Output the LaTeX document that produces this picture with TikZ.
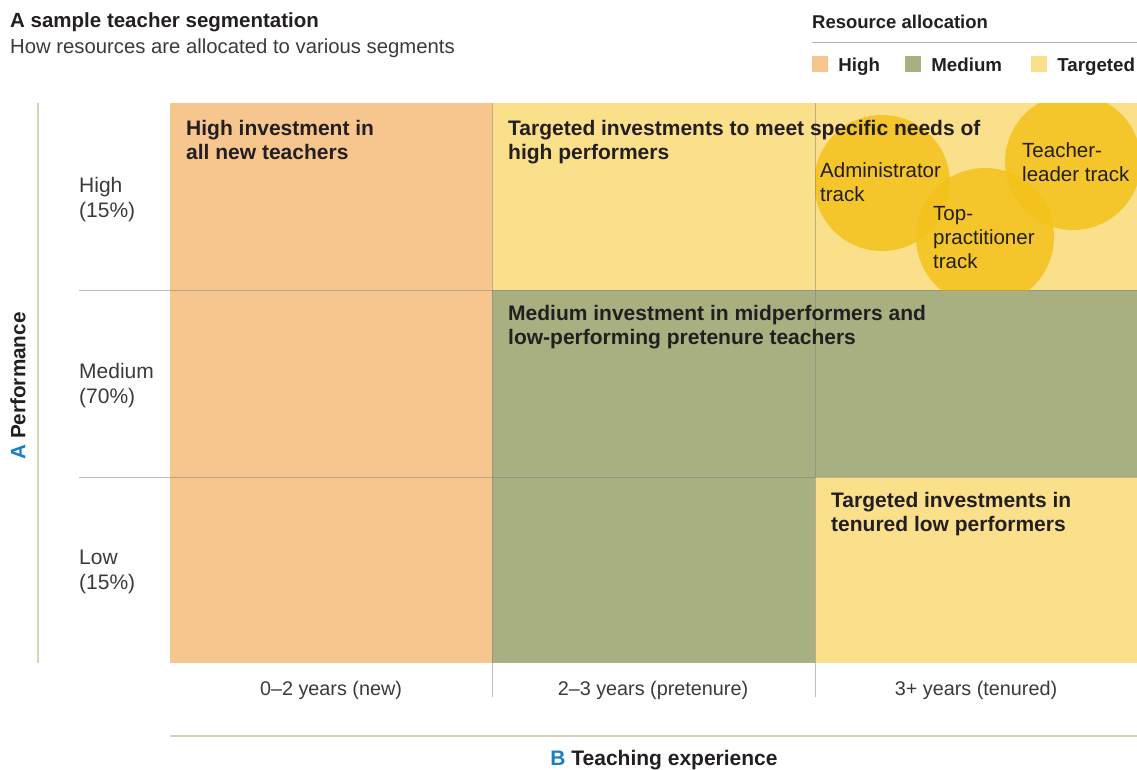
\documentclass[tikz,border=0pt]{standalone}
\usepackage{fontspec}
\setmainfont{Liberation Sans}
\usetikzlibrary{positioning}
\definecolor{highfill}{HTML}{F7C68E}
\definecolor{medfill}{HTML}{A8AF80}
\definecolor{targfill}{HTML}{FAE08A}
\definecolor{trackfill}{HTML}{F4C21B}
\definecolor{textdark}{HTML}{231F20}
\definecolor{textgray}{HTML}{3A3A3A}
\definecolor{axisline}{HTML}{D6D3B6}
\definecolor{gridline}{HTML}{808080}
\definecolor{letterblue}{HTML}{1A7FC1}

\begin{document}
\begin{tikzpicture}[x=1pt, y=-1pt,
  celltext/.style={anchor=north west, inner sep=0pt, align=left, text=textdark,
    font=\fontsize{21}{24}\selectfont\bfseries},
  tracktext/.style={anchor=north west, inner sep=0pt, align=left, text=textdark,
    font=\fontsize{20.5}{24}\selectfont},
  rowlabel/.style={anchor=north west, inner sep=0pt, align=left, text=textgray,
    font=\fontsize{21}{25}\selectfont},
  collabel/.style={inner sep=0pt, text=textgray, font=\fontsize{19.8}{22}\selectfont},
  legendbox/.style={minimum size=16pt, inner sep=0pt},
  legendtext/.style={inner sep=0pt, anchor=base west, yshift=-7pt, text=textdark, font=\fontsize{18.7}{20}\selectfont\bfseries}]
  \useasboundingbox (0,0) rectangle (1137,769);

  % draws the cells
  \fill[highfill] (170,103) rectangle (492,663);
  \fill[targfill] (492,103) rectangle (1137,290);
  \fill[medfill] (492,290) rectangle (1137,477);
  \fill[medfill] (492,477) rectangle (815,663);
  \fill[targfill] (815,477) rectangle (1137,663);

  % draws the tracks
  \begin{scope}
    \clip (815,103) rectangle (1137,290);
    \fill[trackfill, fill opacity=0.85] (882,183) circle (68);
    \fill[trackfill, fill opacity=0.85] (985,237) circle (69);
    \fill[trackfill, fill opacity=0.85] (1073,162) circle (68);
  \end{scope}

  % draws the grid lines
  \foreach \y in {290,477}
    \draw[gridline, opacity=0.5, line width=1pt] (79,\y) -- (1137,\y);
  \foreach \x in {492,815}
    \draw[gridline, opacity=0.5, line width=1pt] (\x,103) -- (\x,697);

  % draws the axes
  \draw[axisline, line width=1.5pt] (38,103) -- (38,663);
  \draw[axisline, line width=1.5pt] (170,736) -- (1137,736);
  \node[rotate=90, inner sep=0pt, font=\fontsize{20.7}{22}\selectfont\bfseries, text=textdark] (perf) at (18,386)
    {\textcolor{letterblue}{A} Performance};
  \node[inner sep=0pt, font=\fontsize{21}{22}\selectfont\bfseries, text=textdark] (exper) at (664,760)
    {\textcolor{letterblue}{B} Teaching experience};

  % row and column labels
  \node[rowlabel] (rhigh) at (79,177) {High\\(15\%)};
  \node[rowlabel] (rmed) at (79,363) {Medium\\(70\%)};
  \node[rowlabel] (rlow) at (79,550) {Low\\(15\%)};
  \foreach \cx/\lab [count=\i] in {331/0--2 years (new), 653/2--3 years (pretenure), 976/3+ years (tenured)}
    \node[collabel] (col\i) at (\cx,690) {\lab};

  % cell texts
  \node[celltext] (newtxt) at (186,120) {High investment in\\all new teachers};
  \node[celltext] (hightxt) at (508,120) {Targeted investments to meet specific needs of\\high performers};
  \node[celltext] (medtxt) at (508,305) {Medium investment in midperformers and\\low-performing pretenure teachers};
  \node[celltext] (lowtxt) at (831,492) {Targeted investments in\\tenured low performers};
  \node[tracktext] (admin) at (820,162) {Administrator\\track};
  \node[tracktext] (toppr) at (933,206) {Top-\\practitioner\\track};
  \node[tracktext] (leader) at (1022,142) {Teacher-\\leader track};

  % title
  \node[anchor=north west, inner sep=0pt, text=textdark, font=\fontsize{20.5}{22}\selectfont\bfseries] (title) at (10,12)
    {A sample teacher segmentation};
  \node[anchor=north west, inner sep=0pt, text=textgray, font=\fontsize{20.3}{22}\selectfont] (subtitle) at (10,39)
    {How resources are allocated to various segments};

  % legend
  \node[anchor=north west, inner sep=0pt, text=textdark, font=\fontsize{18.5}{20}\selectfont\bfseries] (legtitle) at (812,15)
    {Resource allocation};
  \draw[gray!60, line width=1pt] (812,42) -- (1137,42);
  \node[legendbox, fill=highfill] (boxhigh) at (820,64) {};
  \node[right=10pt of boxhigh, legendtext] (labhigh) {High};
  \node[legendbox, fill=medfill] (boxmed) at (913,64) {};
  \node[right=10pt of boxmed, legendtext] (labmed) {Medium};
  \node[legendbox, fill=targfill] (boxtarg) at (1039,64) {};
  \node[right=10pt of boxtarg, legendtext] (labtarg) {Targeted};
\end{tikzpicture}
\end{document}
